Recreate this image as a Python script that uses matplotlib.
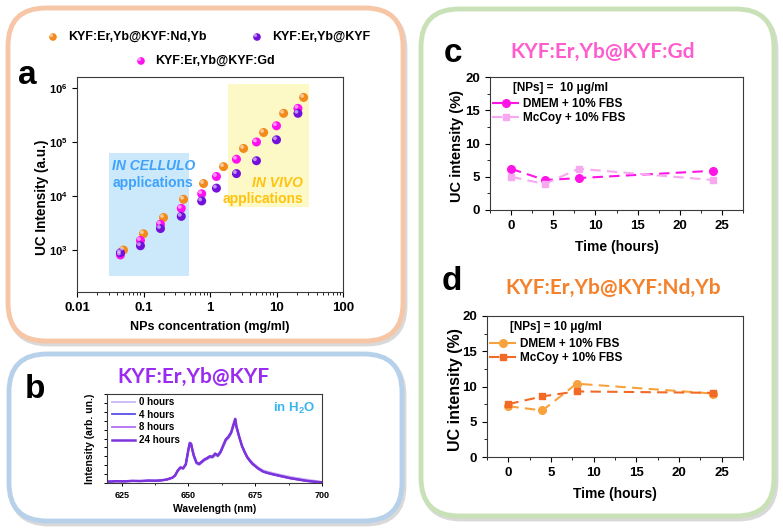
import matplotlib
matplotlib.use('Agg')
import matplotlib.pyplot as plt
from matplotlib.patches import FancyBboxPatch, Rectangle
from matplotlib.transforms import offset_copy
from matplotlib.ticker import FixedLocator, MultipleLocator, NullFormatter, LogLocator

plt.rcParams['font.family'] = ['Liberation Sans', 'DejaVu Sans']
plt.rcParams['font.weight'] = 'bold'
plt.rcParams['axes.labelweight'] = 'bold'
plt.rcParams['mathtext.fontset'] = 'custom'
plt.rcParams['mathtext.rm'] = 'Liberation Sans:bold'
plt.rcParams['mathtext.bf'] = 'Liberation Sans:bold'
plt.rcParams['mathtext.default'] = 'bf'

# ---- panel a : UC intensity vs concentration
conc_ndyb = [0.05, 0.1, 0.2, 0.4, 0.8, 1.6, 3.2, 6.4, 12.8, 25.6]
uc_ndyb = [1.0e3, 2.0e3, 4.0e3, 8.7e3, 1.7e4, 3.5e4, 7.6e4, 1.5e5, 3.4e5, 6.7e5]
conc_gd = [0.045, 0.09, 0.18, 0.37, 0.75, 1.25, 2.5, 5, 10, 21]
uc_gd = [8.1e2, 1.5e3, 3.0e3, 5.9e3, 1.1e4, 2.3e4, 4.8e4, 1.0e5, 2.0e5, 4.2e5]
conc_kyf = [0.045, 0.09, 0.18, 0.37, 0.75, 1.25, 2.5, 5, 10, 21]
uc_kyf = [8.9e2, 1.2e3, 2.5e3, 4.2e3, 8.1e3, 1.4e4, 2.6e4, 4.5e4, 1.1e5, 3.4e5]
cellulo_x = (0.03, 0.48)
cellulo_y = (330, 6.2e4)
vivo_x = (1.84, 31)
vivo_y = (6.3e3, 1.2e6)

# ---- panel b : emission spectra
wl = [620, 623, 626, 629, 632, 635, 638, 640, 642, 644, 645, 646, 647, 648, 649,
      650, 650.5, 651, 651.5, 652, 653, 654, 655, 656, 657, 658, 659, 660, 661,
      662, 663, 664, 665, 666, 667, 667.5, 668, 669, 670, 671, 672, 673, 674,
      676, 678, 680, 682, 685, 688, 691, 694, 697, 700]
spec_0h = [0.014, 0.02, 0.017, 0.023, 0.02, 0.026, 0.024, 0.03, 0.038, 0.058, 0.08, 0.13, 0.165, 0.158, 0.2,
           0.36, 0.42, 0.415, 0.35, 0.29, 0.215, 0.2, 0.225, 0.25, 0.265, 0.285, 0.28, 0.31, 0.295,
           0.33, 0.4, 0.47, 0.5, 0.55, 0.645, 0.69, 0.615, 0.51, 0.42, 0.355, 0.3, 0.265, 0.23,
           0.18, 0.142, 0.125, 0.11, 0.09, 0.07, 0.055, 0.04, 0.028, 0.012]
spec_4h = [0.016, 0.019, 0.02, 0.022, 0.024, 0.025, 0.027, 0.031, 0.04, 0.06, 0.084, 0.14, 0.172, 0.163, 0.208,
           0.375, 0.445, 0.435, 0.365, 0.305, 0.225, 0.21, 0.235, 0.26, 0.275, 0.295, 0.29, 0.325, 0.305,
           0.345, 0.415, 0.485, 0.515, 0.565, 0.665, 0.715, 0.625, 0.515, 0.415, 0.345, 0.285, 0.245, 0.212,
           0.163, 0.126, 0.108, 0.093, 0.073, 0.053, 0.038, 0.024, 0.014, 0.007]
spec_8h = [0.015, 0.021, 0.018, 0.025, 0.021, 0.028, 0.025, 0.029, 0.041, 0.061, 0.086, 0.142, 0.176, 0.166, 0.212,
           0.382, 0.452, 0.442, 0.372, 0.312, 0.232, 0.216, 0.242, 0.266, 0.282, 0.302, 0.296, 0.332, 0.312,
           0.352, 0.422, 0.492, 0.522, 0.572, 0.672, 0.722, 0.632, 0.522, 0.422, 0.352, 0.292, 0.252, 0.216,
           0.168, 0.13, 0.112, 0.097, 0.077, 0.057, 0.042, 0.027, 0.016, 0.008]
spec_24h = [0.015, 0.02, 0.018, 0.024, 0.022, 0.027, 0.025, 0.03, 0.04, 0.06, 0.085, 0.14, 0.175, 0.165, 0.21,
            0.38, 0.45, 0.44, 0.37, 0.31, 0.23, 0.215, 0.24, 0.265, 0.28, 0.3, 0.295, 0.33, 0.31,
            0.35, 0.42, 0.49, 0.52, 0.57, 0.67, 0.72, 0.63, 0.52, 0.42, 0.35, 0.29, 0.25, 0.215,
            0.165, 0.128, 0.11, 0.095, 0.075, 0.055, 0.04, 0.025, 0.015, 0.008]
spec_labels = ['0 hours', '4 hours', '8 hours', '24 hours']
spec_colors = ['#c9b8f4', '#5b4ee6', '#b46ef2', '#7e34dc']

# ---- panels c, d : stability in media
hours = [0, 4, 8, 24]
c_dmem = [6.2, 4.5, 4.8, 5.9]
c_mccoy = [5.0, 3.9, 6.2, 4.5]
d_dmem = [7.2, 6.6, 10.4, 9.0]
d_mccoy = [7.5, 8.6, 9.3, 9.1]

W, H = 783, 530
fig = plt.figure(figsize=(W / 100, H / 100), dpi=100)

# background layer in pixel units
bg = fig.add_axes([0, 0, 1, 1], zorder=0)
bg.set_xlim(0, W)
bg.set_ylim(H, 0)
bg.axis('off')


def rbox(x0, y0, x1, y1, ec):
    sh = FancyBboxPatch((x0 + 2, y0 + 3), x1 - x0, y1 - y0,
                        boxstyle='round,pad=0,rounding_size=38', lw=3.5,
                        ec='#d9d9d9', fc='none')
    bg.add_patch(sh)
    p = FancyBboxPatch((x0, y0), x1 - x0, y1 - y0,
                       boxstyle='round,pad=0,rounding_size=38', lw=3.5,
                       ec=ec, fc='white')
    bg.add_patch(p)


rbox(8, 8, 403, 341, '#f6c6a6')
rbox(9, 354, 402, 521, '#b7d1eb')
rbox(421, 9, 774, 516, '#c9e1b6')


def px_axes(l, t, r, b):
    ax = fig.add_axes([l / W, 1 - b / H, (r - l) / W, (b - t) / H], zorder=2)
    for s in ax.spines.values():
        s.set_color('#3a3a3a')
        s.set_linewidth(0.8)
    return ax


def sphere(ax, x, y, color, s=42):
    ax.scatter(x, y, s=s, c=color, edgecolors='none', zorder=4)
    hl = offset_copy(ax.transData, fig=fig, x=-1.1, y=1.1, units='points')
    ax.scatter(x, y, s=s * 0.18, c='white', alpha=0.55, edgecolors='none',
               transform=hl, zorder=5)


# ================= panel a
col_ndyb, col_gd, col_kyf = '#f28a1c', '#ff10f0', '#7410dc'
axa = px_axes(77, 77, 343, 292)
axa.set_xscale('log')
axa.set_yscale('log')
axa.set_xlim(0.01, 100)
axa.set_ylim(167, 1.6e6)
axa.add_patch(Rectangle((cellulo_x[0], cellulo_y[0]), cellulo_x[1] - cellulo_x[0],
                        cellulo_y[1] - cellulo_y[0], fc='#cbe9fb', ec='none', zorder=1))
axa.add_patch(Rectangle((vivo_x[0], vivo_y[0]), vivo_x[1] - vivo_x[0],
                        vivo_y[1] - vivo_y[0], fc='#fdf9c6', ec='none', zorder=1))
sphere(axa, conc_ndyb, uc_ndyb, col_ndyb)
sphere(axa, conc_gd, uc_gd, col_gd)
sphere(axa, conc_kyf, uc_kyf, col_kyf)
axa.text(0.034, 3.6e4, 'IN CELLULO', color='#3ea2fb', style='italic', fontsize=10,
         va='center', ha='left', zorder=3)
axa.text(0.034, 1.74e4, 'applications', color='#3ea2fb', fontsize=10,
         va='center', ha='left', zorder=3)
axa.text(25, 1.74e4, 'IN VIVO', color='#ffc20e', style='italic', fontsize=10,
         va='center', ha='right', zorder=3)
axa.text(25.5, 8.8e3, 'applications', color='#ffc20e', fontsize=10,
         va='center', ha='right', zorder=3)
axa.xaxis.set_major_locator(FixedLocator([0.01, 0.1, 1, 10, 100]))
axa.set_xticklabels(['0.01', '0.1', '1', '10', '100'])
axa.xaxis.set_minor_locator(LogLocator(base=10, subs=range(2, 10)))
axa.xaxis.set_minor_formatter(NullFormatter())
axa.yaxis.set_major_locator(FixedLocator([1e3, 1e4, 1e5, 1e6]))
axa.set_yticklabels([r'$10^{3}$', r'$10^{4}$', r'$10^{5}$', r'$10^{6}$'])
axa.yaxis.set_minor_locator(FixedLocator([]))
axa.tick_params(which='major', labelsize=9.5, length=3.5, width=0.8, direction='out')
axa.tick_params(which='minor', length=2, width=0.6, direction='out')
axa.tick_params(axis='y', labelsize=8)
axa.set_xlabel('NPs concentration (mg/ml)', fontsize=9, labelpad=5)
axa.set_ylabel('UC Intensity (a.u.)', fontsize=9.8)
axa.yaxis.set_label_coords(-0.105, 0.44)

# legend of panel a (hand-placed, two rows)
sphere(bg, [53], [37], col_ndyb, s=30)
bg.text(68, 37, 'KYF:Er,Yb@KYF:Nd,Yb', fontsize=9, va='center')
sphere(bg, [257], [37], col_kyf, s=30)
bg.text(272, 37, 'KYF:Er,Yb@KYF', fontsize=9, va='center')
sphere(bg, [141], [61], col_gd, s=30)
bg.text(155, 61, 'KYF:Er,Yb@KYF:Gd', fontsize=9, va='center')

# ================= panel b
axb = px_axes(107, 394, 322, 483)
specs = [spec_0h, spec_4h, spec_8h, spec_24h]
widths = [1.3, 1.3, 1.3, 1.8]
for sp, lab, c, lw in zip(specs, spec_labels, spec_colors, widths):
    axb.plot(wl, sp, color=c, lw=lw, label=lab)
axb.set_xlim(619.5, 700)
axb.set_ylim(0, 1.0)
axb.xaxis.set_major_locator(FixedLocator([625, 650, 675, 700]))
axb.xaxis.set_minor_locator(MultipleLocator(12.5))
axb.yaxis.set_major_locator(MultipleLocator(0.1))
axb.set_yticklabels([])
axb.tick_params(which='major', labelsize=6.5, length=2.5, width=0.7, direction='out')
axb.tick_params(which='minor', length=1.5, width=0.6, direction='out')
axb.tick_params(axis='y', length=2)
axb.set_xlabel('Wavelength (nm)', fontsize=7.5, labelpad=3)
axb.set_ylabel('Intensity (arb. un.)', fontsize=7.5, labelpad=3)
axb.legend(loc='upper left', frameon=False, fontsize=7, handlelength=2.4,
           handletextpad=0.4, labelspacing=0.27, borderaxespad=0.1,
           bbox_to_anchor=(0.0, 1.02))
axb.text(0.97, 0.84, r'in H$_2$O', transform=axb.transAxes, color='#38b6f0',
         fontsize=9.5, ha='right', va='center')


# ================= panels c and d
def stability(ax, dmem, mccoy, col_dmem, col_mccoy, conc_text, ylab_size, ylab_x):
    ax.plot(hours, dmem, ls=(0, (5, 3)), lw=1.5, color=col_dmem, marker='o',
            ms=5.5, label='DMEM + 10% FBS')
    ax.plot(hours, mccoy, ls=(0, (5, 3)), lw=1.5, color=col_mccoy, marker='s',
            ms=5, label='McCoy + 10% FBS')
    ax.set_xlim(-2.5, 27.5)
    ax.set_ylim(0, 20)
    ax.xaxis.set_major_locator(MultipleLocator(5))
    ax.xaxis.set_minor_locator(MultipleLocator(2.5))
    ax.yaxis.set_major_locator(MultipleLocator(5))
    ax.yaxis.set_minor_locator(MultipleLocator(2.5))
    ax.tick_params(which='major', labelsize=9.5, length=3.5, width=0.8, direction='out')
    ax.tick_params(which='minor', length=2, width=0.6, direction='out')
    ax.set_xlabel('Time (hours)', fontsize=10, labelpad=6)
    ax.set_ylabel('UC intensity (%)', fontsize=ylab_size)
    ax.yaxis.set_label_coords(ylab_x, 0.48)
    ax.text(0.09, 0.92, conc_text, transform=ax.transAxes, fontsize=8.5,
            va='center', ha='left')
    ax.legend(loc='upper left', frameon=False, fontsize=8.5, handlelength=2.3,
              handletextpad=0.3, labelspacing=0.2, borderaxespad=0.0,
              bbox_to_anchor=(-0.01, 0.88))


axc = px_axes(490, 77, 743, 210)
stability(axc, c_dmem, c_mccoy, '#ff14e6', '#f7a8f0', '[NPs] =  10 μg/ml', 10.5, -0.103)
axd = px_axes(487, 316, 743, 457)
stability(axd, d_dmem, d_mccoy, '#f8a23e', '#f26a26', '[NPs] = 10 μg/ml', 11.5, -0.094)

# ================= panel letters and titles
for lab, x, y in [('a', 27, 75), ('b', 35, 389), ('c', 453, 53), ('d', 452, 281)]:
    bg.text(x, y, lab, fontsize=24, ha='center', va='center')
title_font = ['Lato', 'DejaVu Sans']
bg.text(193, 377, 'KYF:Er,Yb@KYF', color='#9a2cf2', fontsize=15, family=title_font,
        ha='center', va='center')
bg.text(603, 52, 'KYF:Er,Yb@KYF:Gd', color='#ff5ccd', fontsize=15, family=title_font,
        ha='center', va='center')
bg.text(613, 288, 'KYF:Er,Yb@KYF:Nd,Yb', color='#f4822c', fontsize=15, family=title_font,
        ha='center', va='center')

fig.savefig('out.png', dpi=100)
